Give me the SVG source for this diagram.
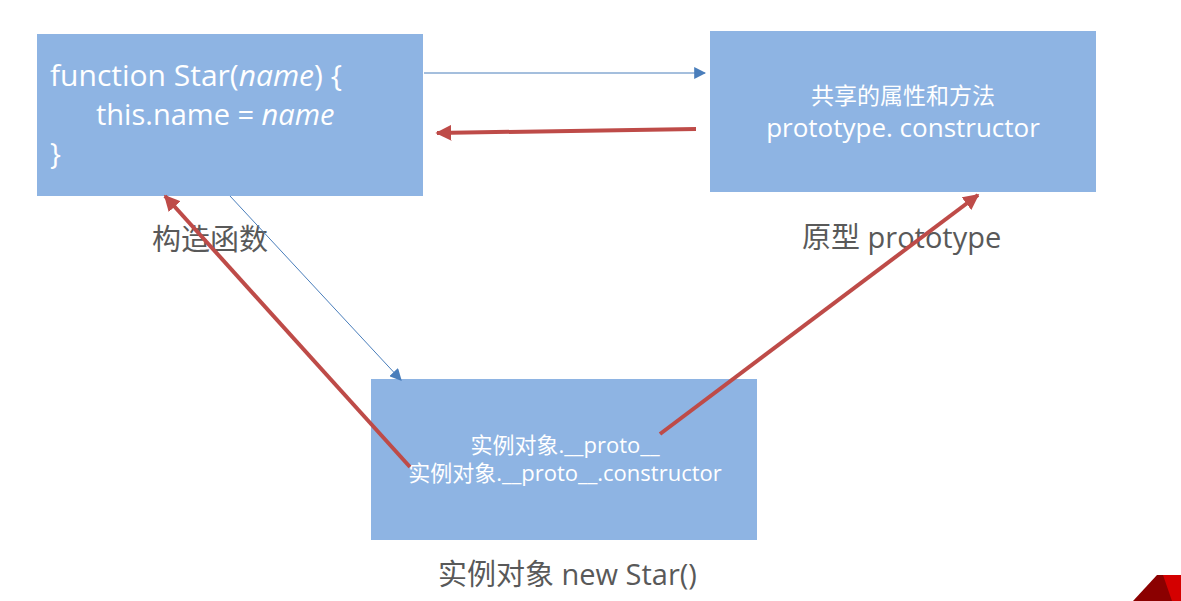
<svg xmlns="http://www.w3.org/2000/svg" width="1181" height="601" viewBox="0 0 1181 601">
<style>
.box{fill:#8eb4e3}
.t{fill:#ffffff;font-family:"Open Sans","Noto Sans CJK SC",sans-serif}
.lbl{fill:#595959;font-family:"Open Sans","Noto Sans CJK SC",sans-serif;font-size:29px}
.blue{stroke:#4a7ebb;stroke-width:1;fill:none}
.red{stroke:#be4b48;stroke-width:4;fill:none}
</style>
<defs>
<marker id="ab" viewBox="0 0 10 10" refX="9" refY="5" markerWidth="12" markerHeight="12" markerUnits="userSpaceOnUse" orient="auto"><path d="M0,0 L10,5 L0,10 z" fill="#4a7ebb"/></marker>
<marker id="ar" viewBox="0 0 10 10" refX="9" refY="5" markerWidth="4" markerHeight="4" orient="auto"><path d="M0,0 L10,5 L0,10 z" fill="#be4b48"/></marker>
</defs>
<rect width="1181" height="601" fill="#ffffff"/>
<g id="star">
<rect class="box" x="37" y="34" width="386" height="162"/>
<text class="t" x="50" y="86" font-size="30">function Star(<tspan font-style="italic">name</tspan>) {</text>
<text class="t" x="96" y="125" font-size="29">this.name = <tspan font-style="italic">name</tspan></text>
<text class="t" x="50" y="164" font-size="29">}</text>
</g>
<g id="prototype">
<rect class="box" x="710" y="31" width="386" height="161"/>
<text class="t" x="903" y="104" font-size="23" text-anchor="middle">共享的属性和方法</text>
<text class="t" x="903" y="137" font-size="26" text-anchor="middle">prototype. constructor</text>
</g>
<g id="instance">
<rect class="box" x="371" y="379" width="386" height="161"/>
<text class="t" x="565" y="453" font-size="22" text-anchor="middle">实例对象.__proto__</text>
<text class="t" x="565" y="481" font-size="22" text-anchor="middle">实例对象.__proto__.constructor</text>
</g>
<g id="labels">
<text class="lbl" x="152" y="250" font-size="30">构造函数</text>
<text class="lbl" x="802" y="248">原型 prototype</text>
<text class="lbl" x="438" y="585">实例对象 new Star()</text>
</g>
<g id="connectors">
<line class="blue" x1="424" y1="73" x2="705" y2="73" marker-end="url(#ab)"/>
<line class="red" x1="696" y1="129" x2="437" y2="133" marker-end="url(#ar)"/>
<line class="blue" x1="230" y1="196" x2="401" y2="380" marker-end="url(#ab)"/>
<line class="red" x1="410" y1="467" x2="165" y2="196" marker-end="url(#ar)"/>
<line class="red" x1="660" y1="434" x2="978" y2="195" marker-end="url(#ar)"/>
</g>
<g id="corner">
<polygon points="1133,601 1157,575 1181,575 1181,601" fill="#8b0000"/>
<polygon points="1163,575 1181,575 1181,601 1172,601" fill="#d40000"/>
</g>
</svg>
